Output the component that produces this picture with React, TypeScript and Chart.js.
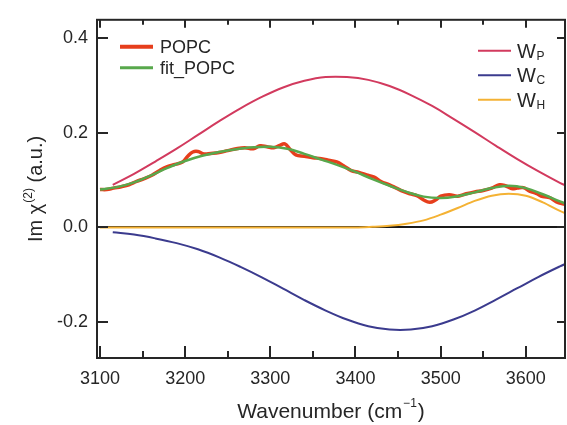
import { useEffect, useRef } from "react";
import { Chart, registerables } from "chart.js";

Chart.register(...registerables);

// ---- data ----
const popcX = [3100, 3108, 3116, 3125, 3134, 3143, 3152, 3161, 3170, 3179, 3188, 3197, 3203, 3209, 3215, 3222, 3230, 3240, 3250, 3260, 3270, 3280, 3288, 3296, 3304, 3311, 3317, 3323, 3330, 3340, 3350, 3360, 3370, 3378, 3386, 3395, 3404, 3413, 3422, 3430, 3440, 3448, 3456, 3464, 3472, 3480, 3487, 3494, 3500, 3510, 3520, 3530, 3540, 3550, 3560, 3569, 3576, 3583, 3590, 3597, 3605, 3612, 3620, 3628, 3636, 3643, 3650];
const popcY = [0.080, 0.080, 0.083, 0.086, 0.090, 0.097, 0.103, 0.110, 0.120, 0.128, 0.133, 0.138, 0.150, 0.159, 0.160, 0.155, 0.156, 0.158, 0.162, 0.166, 0.168, 0.166, 0.172, 0.170, 0.168, 0.173, 0.176, 0.165, 0.153, 0.150, 0.147, 0.145, 0.141, 0.138, 0.130, 0.120, 0.116, 0.111, 0.106, 0.097, 0.090, 0.083, 0.076, 0.071, 0.067, 0.058, 0.053, 0.058, 0.066, 0.069, 0.066, 0.071, 0.075, 0.078, 0.083, 0.090, 0.088, 0.082, 0.083, 0.084, 0.076, 0.072, 0.065, 0.063, 0.054, 0.050, 0.048];

const fitX = [3100, 3120, 3140, 3160, 3180, 3200, 3220, 3240, 3260, 3280, 3300, 3320, 3340, 3360, 3380, 3400, 3420, 3440, 3460, 3480, 3500, 3520, 3540, 3560, 3580, 3600, 3620, 3640, 3650];
const fitY = [0.080, 0.085, 0.095, 0.110, 0.126, 0.140, 0.151, 0.159, 0.165, 0.169, 0.170, 0.166, 0.155, 0.143, 0.131, 0.117, 0.102, 0.088, 0.075, 0.065, 0.062, 0.066, 0.074, 0.083, 0.088, 0.083, 0.070, 0.055, 0.048];

const wpX = [3115, 3140, 3165, 3190, 3215, 3240, 3265, 3290, 3315, 3340, 3365, 3390, 3415, 3440, 3465, 3490, 3515, 3540, 3565, 3590, 3615, 3640, 3650];
const wpY = [0.090, 0.113, 0.139, 0.166, 0.195, 0.224, 0.251, 0.275, 0.295, 0.309, 0.317, 0.317, 0.311, 0.298, 0.279, 0.256, 0.229, 0.201, 0.172, 0.144, 0.118, 0.094, 0.086];

const wcX = [3115, 3140, 3165, 3190, 3215, 3240, 3265, 3290, 3315, 3340, 3365, 3390, 3415, 3440, 3465, 3490, 3515, 3540, 3565, 3590, 3615, 3640, 3650];
const wcY = [-0.010, -0.015, -0.023, -0.033, -0.046, -0.063, -0.083, -0.105, -0.129, -0.153, -0.175, -0.194, -0.208, -0.215, -0.215, -0.208, -0.194, -0.175, -0.152, -0.128, -0.104, -0.082, -0.074];

const whX = [3100, 3400, 3420, 3440, 3460, 3480, 3500, 3520, 3540, 3560, 3580, 3600, 3620, 3640, 3650];
const whY = [0, 0, 0.0014, 0.0036, 0.008, 0.015, 0.027, 0.041, 0.056, 0.067, 0.071, 0.067, 0.053, 0.035, 0.027];

const xMajorTicks = [3100, 3200, 3300, 3400, 3500, 3600];
const xMinorTicks = [3150, 3250, 3350, 3450, 3550];
const yTicks = [-0.2, 0.0, 0.2, 0.4];
const xMin = 3096.5;
const xMax = 3646;
const yMin = -0.275;
const yMax = 0.4376;

const leftLegendLabels = ["POPC", "fit_POPC"];
const rightLegendBase = ["W", "W", "W"];
const rightLegendSub = ["P", "C", "H"];

const FONT = '"Liberation Sans", Arial, Helvetica, sans-serif';
const INK = "#262626";

const COLORS = {
  popc: "#e63e1c",
  fit: "#58a84c",
  wp: "#d23a5e",
  wc: "#3b3b8e",
  wh: "#f4b234",
};

const pts = (xs: number[], ys: number[]) => xs.map((x, i) => ({ x, y: ys[i] }));

const framePlugin = {
  id: "frameTicks",
  afterDatasetsDraw(chart: any) {
    const { ctx, chartArea } = chart;
    const xs = chart.scales.x;
    const ys = chart.scales.y;
    const { left, right, top, bottom } = chartArea;
    ctx.save();
    ctx.strokeStyle = INK;
    ctx.lineWidth = 2;
    ctx.strokeRect(left, top, right - left, bottom - top);
    ctx.beginPath();
    xMajorTicks.forEach((v) => {
      const p = Math.round(xs.getPixelForValue(v));
      ctx.moveTo(p, bottom);
      ctx.lineTo(p, bottom - 12);
      ctx.moveTo(p, top);
      ctx.lineTo(p, top + 8);
    });
    xMinorTicks.forEach((v) => {
      const p = Math.round(xs.getPixelForValue(v));
      ctx.moveTo(p, bottom);
      ctx.lineTo(p, bottom - 7);
      ctx.moveTo(p, top);
      ctx.lineTo(p, top + 5);
    });
    yTicks.forEach((v) => {
      const p = Math.round(ys.getPixelForValue(v));
      ctx.moveTo(left, p);
      ctx.lineTo(left + 11, p);
      ctx.moveTo(right, p);
      ctx.lineTo(right - 8, p);
    });
    ctx.stroke();
    ctx.restore();
  },
};

const legendPlugin = {
  id: "customLegend",
  afterDraw(chart: any) {
    const { ctx, chartArea } = chart;
    const ds = chart.data.datasets;
    ctx.save();
    ctx.fillStyle = INK;
    // left legend
    const lx = chartArea.left + 23;
    leftLegendLabels.forEach((lab, i) => {
      const d = ds.find((s: any) => s.label === lab);
      const y = chartArea.top + 27 + i * 21;
      ctx.strokeStyle = d.borderColor;
      ctx.lineWidth = i === 0 ? 4 : 3;
      ctx.beginPath();
      ctx.moveTo(lx, y);
      ctx.lineTo(lx + 33, y);
      ctx.stroke();
      ctx.textBaseline = "middle";
      ctx.font = `18px ${FONT}`;
      ctx.fillText(lab, lx + 40, y + 1);
    });
    // right legend
    const rx = chartArea.right - 87;
    rightLegendBase.forEach((b, i) => {
      const lab = b + "_" + rightLegendSub[i];
      const d = ds.find((s: any) => s.label === lab);
      const y = chartArea.top + 31 + i * 24.5;
      ctx.strokeStyle = d.borderColor;
      ctx.lineWidth = 2;
      ctx.beginPath();
      ctx.moveTo(rx, y);
      ctx.lineTo(rx + 33, y);
      ctx.stroke();
      ctx.textBaseline = "alphabetic";
      ctx.font = `20px ${FONT}`;
      const base = y + 7;
      ctx.fillText(b, rx + 39, base);
      const w = ctx.measureText(b).width;
      ctx.font = `12px ${FONT}`;
      ctx.fillText(rightLegendSub[i], rx + 39 + w + 0.5, base + 2);
    });
    ctx.restore();
  },
};

const titlePlugin = {
  id: "axisTitles",
  afterDraw(chart: any) {
    const { ctx, chartArea } = chart;
    ctx.save();
    ctx.fillStyle = INK;
    ctx.textBaseline = "alphabetic";
    ctx.textAlign = "left";
    // x title
    const main = "Wavenumber (cm";
    const sup = "\u22121";
    const tail = ")";
    ctx.font = `21px ${FONT}`;
    const wMain = ctx.measureText(main).width;
    const wTail = ctx.measureText(tail).width;
    ctx.font = `12px ${FONT}`;
    const wSup = ctx.measureText(sup).width;
    const total = wMain + wSup + wTail + 2;
    const cx = (chartArea.left + chartArea.right) / 2;
    let x = cx - total / 2;
    const by = chartArea.bottom + 60;
    ctx.font = `21px ${FONT}`;
    ctx.fillText(main, x, by);
    x += wMain + 1;
    ctx.font = `12px ${FONT}`;
    ctx.fillText(sup, x, by - 11);
    x += wSup + 1;
    ctx.font = `21px ${FONT}`;
    ctx.fillText(tail, x, by);

    // y title (rotated)
    const a = "Im \u03c7";
    const s = "(2)";
    const b = " (a.u.)";
    ctx.font = `20px ${FONT}`;
    const wa = ctx.measureText(a).width;
    const wb = ctx.measureText(b).width;
    ctx.font = `12px ${FONT}`;
    const ws = ctx.measureText(s).width;
    const tot = wa + ws + wb + 1;
    const cy = (chartArea.top + chartArea.bottom) / 2;
    ctx.translate(42, cy);
    ctx.rotate(-Math.PI / 2);
    let t = -tot / 2;
    ctx.font = `20px ${FONT}`;
    ctx.fillText(a, t, 0);
    t += wa + 1;
    ctx.font = `12px ${FONT}`;
    ctx.fillText(s, t, -10);
    t += ws;
    ctx.font = `20px ${FONT}`;
    ctx.fillText(b, t, 0);
    ctx.restore();
  },
};

export default function App() {
  const ref = useRef<HTMLCanvasElement | null>(null);

  useEffect(() => {
    document.body.style.margin = "0";
    document.body.style.background = "#ffffff";
    const canvas = ref.current;
    if (!canvas) return;
    const chart = new Chart(canvas, {
      type: "line",
      data: {
        datasets: [
          { label: "fit_POPC", data: pts(fitX, fitY), borderColor: COLORS.fit, borderWidth: 2.5, tension: 0.4, order: 0 },
          { label: "POPC", data: pts(popcX, popcY), borderColor: COLORS.popc, borderWidth: 3.5, tension: 0.4, order: 1 },
          { label: "W_P", data: pts(wpX, wpY), borderColor: COLORS.wp, borderWidth: 2, tension: 0.4, order: 2 },
          { label: "W_C", data: pts(wcX, wcY), borderColor: COLORS.wc, borderWidth: 2, tension: 0.4, order: 3 },
          { label: "W_H", data: pts(whX, whY), borderColor: COLORS.wh, borderWidth: 2, cubicInterpolationMode: "monotone", order: 4 },
        ] as any,
      },
      options: {
        animation: false,
        responsive: false,
        devicePixelRatio: 1,
        layout: { padding: { left: 0, top: 17, right: 2, bottom: 0 } },
        elements: { point: { radius: 0, hoverRadius: 0 } },
        plugins: { legend: { display: false }, tooltip: { enabled: false } },
        events: [],
        scales: {
          x: {
            type: "linear",
            min: xMin,
            max: xMax,
            afterFit: (s: any) => { s.height = 67; },
            afterBuildTicks: (s: any) => { s.ticks = xMajorTicks.map((v) => ({ value: v })); },
            grid: { display: false, drawTicks: false },
            border: { display: false },
            ticks: {
              padding: 10,
              color: INK,
              font: { family: FONT, size: 18 },
              maxRotation: 0,
              autoSkip: false,
              callback: (v: any) => String(v),
            },
          },
          y: {
            type: "linear",
            min: yMin,
            max: yMax,
            afterFit: (s: any) => { s.width = 97; },
            afterBuildTicks: (s: any) => { s.ticks = yTicks.map((v) => ({ value: v })); },
            grid: {
              drawTicks: false,
              color: (c: any) => (c.tick && Math.abs(c.tick.value) < 1e-9 ? "#1a1a1a" : "rgba(0,0,0,0)"),
              lineWidth: 2,
            },
            border: { display: false },
            ticks: {
              padding: 9,
              color: INK,
              font: { family: FONT, size: 18 },
              autoSkip: false,
              callback: (v: any) => Number(v).toFixed(1),
            },
          },
        },
      } as any,
      plugins: [framePlugin, legendPlugin, titlePlugin],
    });
    return () => chart.destroy();
  }, []);

  return (
    <div style={{ width: 567, height: 425 }}>
      <canvas ref={ref} width={567} height={425} style={{ display: "block" }} />
    </div>
  );
}
